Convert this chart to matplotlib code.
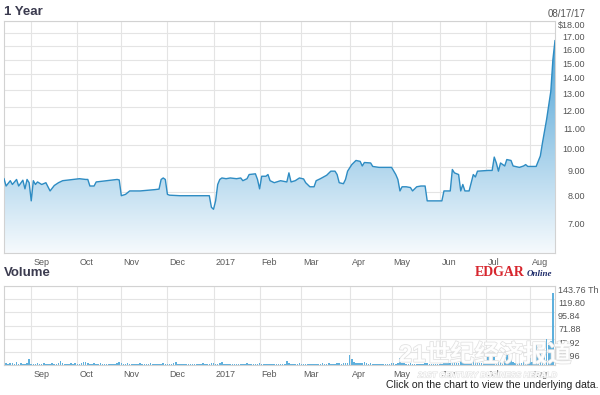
import numpy as np
import pandas as pd
import matplotlib
matplotlib.use('Agg')
import matplotlib.pyplot as plt
import matplotlib.patheffects as pe
from matplotlib.colors import LinearSegmentedColormap
from matplotlib.patches import Polygon
from matplotlib.ticker import FixedLocator, FixedFormatter, NullLocator
from matplotlib.transforms import ScaledTranslation

plt.rcParams['font.family'] = ['Liberation Sans', 'Noto Sans CJK SC', 'DejaVu Sans']

# trading sessions shown, 08/15/16 .. 08/17/17
sessions = pd.bdate_range('2016-08-15', '2017-08-17')

# close price read at the turning points of the line (session number, $)
price_day = [0, 1, 3, 4, 6, 7, 9, 10, 11, 12, 13, 14, 15, 16, 18, 20, 22, 24, 26, 28,
             33, 36, 39, 40, 41, 43, 44, 49, 54, 55, 56, 58, 60, 65,
             72, 74, 75, 76, 77, 78, 79, 84, 90, 98, 99, 100, 101, 102, 103, 104,
             106, 108, 111, 113, 114, 116, 117, 120, 121, 122, 123, 125, 126, 127, 129, 132,
             135, 136, 137, 139, 141, 143, 144, 146, 148, 149, 151, 154, 156, 158, 159, 160,
             162, 163, 164, 166, 168, 170, 171, 172, 175, 176, 179, 185, 187, 188, 189, 190,
             192, 194, 195, 197, 199,
             201, 202, 209, 210, 213, 214, 215, 217, 218, 219, 220, 222, 224, 225, 226, 231,
             233, 234, 235, 236, 237, 239, 240, 242, 243, 246, 248, 249, 250, 254, 256, 257,
             259, 261, 262, 263]
price = [8.53, 8.24, 8.45, 8.30, 8.50, 8.24, 8.47, 8.13, 8.50, 8.37, 7.68, 8.45, 8.30, 8.40, 8.30, 8.37, 8.05, 8.26, 8.37, 8.45,
         8.50, 8.53, 8.50, 8.50, 8.24, 8.24, 8.40, 8.45, 8.50, 8.48, 7.87, 7.92, 8.05, 8.05,
         8.10, 8.12, 8.50, 8.56, 8.50, 7.92, 7.89, 7.87, 7.87, 7.87, 7.45, 7.38, 7.68, 8.30, 8.50, 8.56,
         8.53, 8.56, 8.53, 8.56, 8.45, 8.53, 8.70, 8.73, 8.50, 8.13, 8.63, 8.63, 8.70, 8.45, 8.37, 8.45,
         8.40, 8.77, 8.40, 8.45, 8.56, 8.52, 8.37, 8.21, 8.21, 8.45, 8.53, 8.67, 8.84, 8.84, 8.70, 8.37,
         8.33, 8.50, 8.84, 9.12, 9.30, 9.26, 9.06, 9.21, 9.19, 9.04, 9.00, 9.00, 8.70, 8.50, 8.05, 8.21,
         8.21, 8.18, 8.05, 8.21, 8.24,
         8.24, 7.68, 7.68, 8.05, 8.05, 8.91, 8.77, 8.70, 8.05, 8.30, 8.05, 8.05, 8.70, 8.60, 8.84, 8.87,
         8.87, 9.45, 9.19, 8.84, 9.19, 9.06, 9.34, 9.30, 9.06, 9.00, 9.06, 9.12, 9.04, 9.04, 9.50, 10.1,
         11.3, 12.9, 15.0, 16.4]

price_ticks = [7, 8, 9, 10, 11, 12, 13, 14, 15, 16, 17, 18]
price_labels = ['7.00', '8.00', '9.00', '10.00', '11.00', '12.00', '13.00',
                '14.00', '15.00', '16.00', '17.00', '$18.00']

# daily volume, thousands of shares
volume = [2.5, 3.0, 2.0, 2.8, 3.5, 2.2, 6.0, 2.6, 3.0, 2.4,
          2.0, 3.2, 10.3, 2.7, 2.2, 2.5, 3.0, 2.1, 2.4, 2.8,
          2.2, 2.0, 2.6, 3.0, 2.3, 2.5, 3.4, 7.9, 3.0, 2.2,
          2.4, 2.0, 2.8, 2.5, 3.1, 2.2, 2.6, 3.5, 5.5, 4.9,
          3.2, 2.6, 2.3, 2.8, 2.0, 2.4, 2.9, 2.2, 2.5, 2.1,
          2.3, 2.7, 2.0, 2.4, 3.0, 6.0, 3.4, 2.5, 2.2, 2.8,
          2.0, 2.4, 2.6, 2.1, 2.5, 2.9, 2.2, 2.0, 2.6, 2.3,
          2.8, 2.1, 2.4, 2.0, 2.7, 2.3, 3.0, 2.5, 2.2, 2.0,
          2.6, 3.1, 4.9, 2.4, 2.0, 2.3, 2.7, 2.1, 2.5, 2.2,
          2.0, 2.4, 2.6, 2.1, 2.3, 2.8, 2.0, 2.5, 2.2, 3.5,
          3.0, 2.6, 2.3, 2.8, 4.9, 2.5, 2.2, 2.0, 2.6, 2.4,
          2.1, 2.7, 2.3, 2.0, 2.5, 2.2, 2.8, 2.4, 2.1, 2.6,
          2.3, 2.0, 3.0, 2.4, 2.2, 2.6, 2.1, 2.5, 2.3, 2.0,
          2.4, 2.7, 2.2, 2.0, 2.5, 6.7, 3.2, 2.4, 2.1, 2.6,
          2.3, 2.8, 2.0, 2.5, 2.2, 2.7, 2.4, 2.1, 2.6, 2.3,
          2.0, 2.5, 2.8, 2.2, 2.6, 3.0, 2.4, 2.7, 2.2, 3.2,
          2.8, 2.5, 3.0, 3.6, 4.5, 18.2, 10.3, 5.0, 3.4, 4.0,
          3.2, 3.0, 4.9, 2.8, 2.5, 3.0, 2.6, 2.4, 2.2, 2.7,
          2.3, 2.5, 2.0, 2.6, 2.2, 2.8, 3.0, 2.5, 3.6, 12.1,
          4.0, 3.0, 2.6, 2.4, 2.8, 2.2, 2.5, 2.7, 2.3, 2.6,
          2.4, 2.8, 3.5, 2.6, 2.2, 2.5, 2.3, 2.0, 2.6, 2.4,
          4.0, 3.2, 2.8, 3.0, 9.0, 6.5, 4.2, 3.6, 7.0, 5.5,
          4.0, 3.5, 3.0, 6.0, 8.5, 5.0, 4.2, 3.8, 3.2, 3.0,
          4.5, 15.0, 5.5, 4.0, 15.0, 8.0, 6.0, 10.0, 5.0, 6.5,
          18.0, 7.0, 16.0, 6.0, 4.5, 5.0, 4.0, 3.8, 6.0, 8.0,
          25.5, 12.0, 6.0, 10.0, 39.4, 14.0, 22.0, 30.0, 20.0, 46.7,
          36.0, 44.0, 131.0, 0.0]

vol_ticks = [23.96, 47.92, 71.88, 95.84, 119.80, 143.76]
vol_labels = ['23.96', '47.92', '71.88', '95.84', '119.80', '143.76 Th']

# first session of every month -> x ticks
month_pos = [i for i in range(1, len(sessions)) if sessions[i].month != sessions[i - 1].month]
month_lab = ['2017' if sessions[i].month == 1 else sessions[i].strftime('%b') for i in month_pos]

fig = plt.figure(figsize=(6, 3.95), dpi=100)
ax = fig.add_axes([4 / 600, 1 - 253 / 395, 551 / 600, 232 / 395])
axv = fig.add_axes([4 / 600, 1 - 365 / 395, 551 / 600, 79 / 395])

shift = ScaledTranslation(2 / 100, 0, fig.dpi_scale_trans)


def style(a):
    for s in a.spines.values():
        s.set_color('#d2d2d2')
        s.set_linewidth(0.8)
    a.set_xlim(0, len(sessions) - 1)
    a.xaxis.set_major_locator(FixedLocator(month_pos))
    a.xaxis.set_major_formatter(FixedFormatter(month_lab))
    a.grid(True, color='#e4e4e4', linewidth=0.8)
    a.set_axisbelow(True)
    a.yaxis.tick_right()
    a.tick_params(length=0, labelsize=6.5, labelcolor='#555555')
    a.tick_params(axis='x', pad=3.5)


#Price panel
style(ax)
ax.set_yscale('log')
ax.set_ylim(6, 18)
ax.yaxis.set_major_locator(FixedLocator(price_ticks))
ax.yaxis.set_major_formatter(FixedFormatter(price_labels))
ax.yaxis.set_minor_locator(NullLocator())
ax.tick_params(axis='y', which='minor', length=0)
ax.tick_params(axis='y', pad=21.6)

fade = LinearSegmentedColormap.from_list('fade', ['#f6fafd', '#3d9ad2'])
grad = np.linspace(0, 1, 256).reshape(-1, 1)
im = ax.imshow(grad, cmap=fade, extent=[0, 1, 0, 1], origin='lower', aspect='auto',
               transform=ax.transAxes, zorder=1)
area = Polygon(np.column_stack([price_day + [price_day[-1], price_day[0]], price + [6, 6]]),
               closed=True, facecolor='none', edgecolor='none', transform=ax.transData)
ax.add_patch(area)
im.set_clip_path(area)
ax.plot(price_day, price, color='#2e8cc3', linewidth=1.0, zorder=3)
ax.set_xlim(0, len(sessions) - 1)
ax.set_ylim(6, 18)

#Volume panel
style(axv)
axv.bar(range(len(volume)), volume, width=0.75, color='#5eb0dd', zorder=2)
axv.set_ylim(0, 143.76)
axv.yaxis.set_major_locator(FixedLocator(vol_ticks))
axv.yaxis.set_major_formatter(FixedFormatter(vol_labels))
axv.tick_params(axis='y', pad=2.2)

for lbl in ax.get_yticklabels():
    lbl.set_ha('right')
    lbl.set_va('top')
for lbl in axv.get_yticklabels():
    lbl.set_ha('left')
    lbl.set_va('top')
for a in (ax, axv):
    for lbl in a.get_xticklabels():
        lbl.set_ha('left')
        lbl.set_color('#5a5a5a')
        lbl.set_transform(lbl.get_transform() + shift)

#Texts
fig.text(4 / 600, 1 - 12 / 395, '1 Year', fontsize=9.5, fontweight='bold', color='#3b3b4f', va='center')
fig.text(585 / 600, 1 - 14 / 395, '08/17/17', fontsize=7, color='#555555', ha='right', va='center')
fig.text(4 / 600, 1 - 273 / 395, 'Volume', fontsize=9.5, fontweight='bold', color='#3b3b4f', va='center')
fig.text(475 / 600, 1 - 276 / 395, 'EDGAR', family='Liberation Serif', fontweight='bold',
         color='#d7262e', fontsize=10, va='baseline')
fig.text(527 / 600, 1 - 276 / 395, 'Online', family='Liberation Serif', fontweight='bold',
         style='italic', color='#1f2d6b', fontsize=6.5, va='baseline')
fig.text(599 / 600, 1 - 385 / 395, 'Click on the chart to view the underlying data.',
         fontsize=7.6, color='#222222', ha='right', va='center')

# watermark of the source paper
fig.text(485 / 600, 1 - 355 / 395, '21世纪经济报道', fontsize=17.5, fontweight='bold',
         color='white', alpha=0.9, ha='center', va='center',
         path_effects=[pe.withStroke(linewidth=1.0, foreground='#dcdcdc')])
fig.text(487 / 600, 1 - 376 / 395, '21ST CENTURY BUSINESS HERALD', fontsize=5.8, fontweight='bold',
         style='italic', color='white', alpha=0.9, ha='center', va='center',
         path_effects=[pe.withStroke(linewidth=0.8, foreground='#e2e2e2')])

fig.savefig('out.png', dpi=100)
